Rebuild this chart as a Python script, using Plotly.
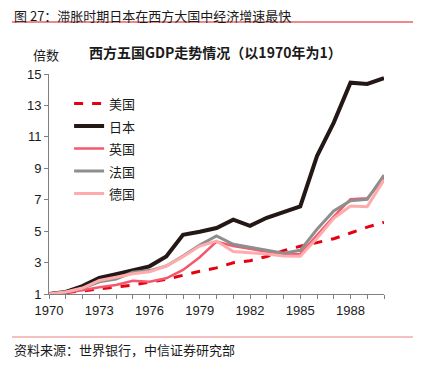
import plotly.graph_objects as go

years = list(range(1970, 1991))
us = [1.0, 1.09, 1.19, 1.33, 1.44, 1.57, 1.75, 1.94, 2.19, 2.45, 2.66, 2.99, 3.12, 3.39, 3.76, 4.04, 4.27, 4.52, 4.88, 5.26, 5.56]
japan = [1.0, 1.13, 1.50, 2.03, 2.26, 2.48, 2.76, 3.39, 4.77, 4.96, 5.20, 5.73, 5.34, 5.85, 6.20, 6.58, 9.78, 11.91, 14.45, 14.37, 14.74]
uk = [1.0, 1.09, 1.24, 1.43, 1.57, 1.84, 1.78, 2.0, 2.53, 3.34, 4.33, 4.05, 3.88, 3.70, 3.50, 3.55, 4.76, 5.92, 7.03, 7.09, 8.36]
france = [1.0, 1.12, 1.36, 1.78, 1.95, 2.38, 2.49, 2.78, 3.42, 4.12, 4.70, 4.16, 3.97, 3.80, 3.59, 3.78, 5.12, 6.28, 6.94, 7.03, 8.57]
germany = [1.0, 1.13, 1.38, 1.86, 2.07, 2.29, 2.42, 2.78, 3.38, 4.05, 4.37, 3.70, 3.62, 3.55, 3.42, 3.40, 4.55, 5.82, 6.60, 6.56, 8.26]

series = [
    ("美国", us, "#e60012", 3, "dash"),
    ("日本", japan, "#231815", 4, "solid"),
    ("英国", uk, "#f5586d", 2.5, "solid"),
    ("法国", france, "#8e8e8e", 3, "solid"),
    ("德国", germany, "#ffabab", 3, "solid"),
]

fig = go.Figure()
for name, vals, color, w, dash in series:
    fig.add_trace(go.Scatter(x=years, y=vals,
                             name="<span style='font-size:13px'>" + name + "</span>",
                             mode="lines", line=dict(color=color, width=w, dash=dash)))

num_font = dict(family="Liberation Sans, Arial, sans-serif", size=13, color="#1a1a1a")
cjk = "Noto Sans CJK SC, sans-serif"

fig.update_layout(
    width=428, height=373,
    margin=dict(l=49, r=44, t=74, b=79),
    paper_bgcolor="white", plot_bgcolor="white",
    showlegend=True,
    legend=dict(x=0.06, y=0.94, xanchor="left", yanchor="top",
                font=dict(family=cjk, size=15, color="#1a1a1a"),
                bgcolor="rgba(0,0,0,0)", tracegroupgap=0),
    xaxis=dict(range=[1970, 1990], tick0=1970, dtick=3, showgrid=False, zeroline=False,
               showline=True, linecolor="#808080", linewidth=1,
               ticks="outside", ticklen=4, tickcolor="#808080",
               minor=dict(dtick=1, ticks="outside", ticklen=4, tickcolor="#808080"),
               tickfont=num_font),
    yaxis=dict(range=[1, 15], tick0=1, dtick=2, showgrid=False, zeroline=False,
               showline=True, linecolor="#808080", linewidth=1,
               ticks="outside", ticklen=4, tickcolor="#808080",
               tickfont=num_font),
)

fig.add_annotation(text="图 27：滞胀时期日本在西方大国中经济增速最快", xref="paper", yref="paper",
                   x=(12 - 49) / 335, y=(294 - 15) / 220, xanchor="left", yanchor="middle",
                   showarrow=False, font=dict(family=cjk, size=13, color="#1a1a1a"))
fig.add_shape(type="line", xref="paper", yref="paper",
              x0=(12 - 49) / 335, x1=(413 - 49) / 335, y0=(294 - 22) / 220, y1=(294 - 22) / 220,
              line=dict(color="#d7141a", width=1))
fig.add_annotation(text="<b>西方五国GDP走势情况（以1970年为1）</b>", xref="paper", yref="paper",
                   x=(215 - 49) / 335, y=(294 - 52) / 220, xanchor="center", yanchor="middle",
                   showarrow=False, font=dict(family=cjk, size=14, color="#1a1a1a"))
fig.add_annotation(text="倍数", xref="paper", yref="paper",
                   x=(46 - 49) / 335, y=(294 - 54) / 220, xanchor="center", yanchor="middle",
                   showarrow=False, font=dict(family=cjk, size=13, color="#1a1a1a"))
fig.add_shape(type="line", xref="paper", yref="paper",
              x0=(12 - 49) / 335, x1=(413 - 49) / 335, y0=(294 - 337) / 220, y1=(294 - 337) / 220,
              line=dict(color="#e88080", width=1))
fig.add_annotation(text="资料来源：世界银行，中信证券研究部", xref="paper", yref="paper",
                   x=(12 - 49) / 335, y=(294 - 349) / 220, xanchor="left", yanchor="middle",
                   showarrow=False, font=dict(family=cjk, size=13, color="#1a1a1a"))

fig.write_html("out.html", config={"displayModeBar": False},
               post_script="document.body.style.margin='0px';")
